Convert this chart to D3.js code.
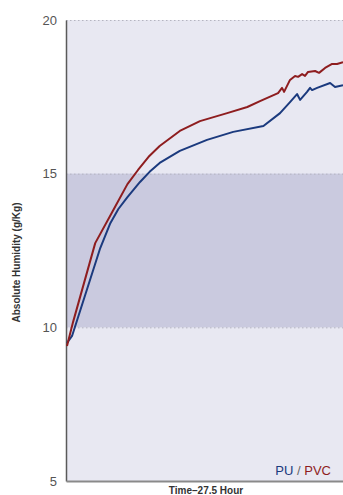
<!DOCTYPE html>
<html>
<head>
<meta charset="utf-8">
<script src="https://cdn.jsdelivr.net/npm/d3@7"></script>
<style>
  body { margin: 0; background: #fff; }
  svg text { font-family: "Liberation Sans", Arial, sans-serif; }
</style>
</head>
<body>
<div id="chart"></div>
<script>
// data: time (hours) and absolute humidity (g/Kg)
var puTime = [0.1, 0.6, 3.4, 4.4, 5.2, 6.1, 7.35, 8.3, 9.3, 11.3, 14.0, 16.6, 19.6, 21.25, 22.24, 22.94, 23.24, 23.93, 24.23, 24.43, 24.93, 26.22, 26.71, 27.5];
var puHum  = [9.49, 9.72, 12.58, 13.39, 13.85, 14.24, 14.73, 15.06, 15.35, 15.74, 16.1, 16.36, 16.55, 16.97, 17.33, 17.59, 17.4, 17.66, 17.79, 17.72, 17.79, 17.95, 17.82, 17.88];

var pvcTime = [0.1, 0.7, 2.9, 4.7, 6.1, 7.15, 8.2, 9.3, 11.3, 13.3, 16.0, 18.0, 19.26, 21.05, 21.45, 21.65, 22.24, 22.74, 23.04, 23.44, 23.73, 24.03, 24.73, 25.12, 25.72, 26.42, 26.91, 27.5];
var pvcHum  = [9.39, 10.17, 12.74, 13.82, 14.66, 15.12, 15.55, 15.9, 16.39, 16.71, 16.97, 17.17, 17.36, 17.62, 17.79, 17.66, 18.05, 18.18, 18.15, 18.24, 18.18, 18.31, 18.34, 18.28, 18.44, 18.57, 18.57, 18.63];

var yTicks = [5, 10, 15, 20];
var band = [10, 15];
var seriesNames = ["PU", "PVC"];
var seriesColors = ["#1b3a7e", "#8e1d1f"];

var width = 343, height = 495;
var margin = {top: 20, right: 0, bottom: 14, left: 66};

var svg = d3.select("#chart").append("svg")
    .attr("width", width)
    .attr("height", height);

var x = d3.scaleLinear().domain([0, 27.5]).range([margin.left, width - margin.right]);
var y = d3.scaleLinear().domain([5, 20]).range([height - margin.bottom, margin.top]);

// plot background
svg.append("rect")
    .attr("x", x(0)).attr("y", y(20))
    .attr("width", x(27.5) - x(0)).attr("height", y(5) - y(20))
    .attr("fill", "#e8e8f2");

// darker band 10-15
svg.append("rect")
    .attr("x", x(0)).attr("y", y(band[1]))
    .attr("width", x(27.5) - x(0)).attr("height", y(band[0]) - y(band[1]))
    .attr("fill", "#cacadf");

// dotted gridlines
svg.selectAll(".grid").data(yTicks.filter(d => d > 5)).enter()
  .append("line")
    .attr("x1", x(0)).attr("x2", x(27.5))
    .attr("y1", d => y(d) + 0.5).attr("y2", d => y(d) + 0.5)
    .attr("stroke", "#b4b4c0")
    .attr("stroke-width", 1)
    .attr("stroke-dasharray", "1.5,2.5");

// y axis
var yAxis = svg.append("g")
    .attr("transform", `translate(${x(0)},0)`)
    .call(d3.axisLeft(y).tickValues(yTicks).tickSize(0).tickPadding(9));
yAxis.select(".domain").attr("stroke", "#5a5a5a").attr("stroke-width", 1.5);
yAxis.selectAll("text").attr("font-size", 13).attr("fill", "#555")
    .attr("font-family", "Liberation Sans, Arial, sans-serif");

// x axis (line only)
var xAxis = svg.append("g")
    .attr("transform", `translate(0,${y(5)})`)
    .call(d3.axisBottom(x).tickValues([]).tickSizeOuter(0));
xAxis.select(".domain").attr("stroke", "#8a8a8a").attr("stroke-width", 2);

// lines
var line = d3.line().x(d => x(d[0])).y(d => y(d[1]));
var puData = puTime.map((t, i) => [t, puHum[i]]);
var pvcData = pvcTime.map((t, i) => [t, pvcHum[i]]);

svg.append("path").datum(puData)
    .attr("d", line).attr("fill", "none")
    .attr("stroke", seriesColors[0]).attr("stroke-width", 2)
    .attr("stroke-linejoin", "round");

svg.append("path").datum(pvcData)
    .attr("d", line).attr("fill", "none")
    .attr("stroke", seriesColors[1]).attr("stroke-width", 2)
    .attr("stroke-linejoin", "round");

// legend text
var leg = svg.append("text")
    .attr("x", 331).attr("y", 475)
    .attr("text-anchor", "end")
    .attr("font-size", 13);
leg.append("tspan").attr("fill", seriesColors[0]).text(seriesNames[0]);
leg.append("tspan").attr("fill", "#666").text(" / ");
leg.append("tspan").attr("fill", seriesColors[1]).text(seriesNames[1]);

// axis titles
svg.append("text")
    .attr("transform", `translate(20,${(y(5) + y(20)) / 2 + 12}) rotate(-90)`)
    .attr("text-anchor", "middle")
    .attr("font-size", 10).attr("font-weight", "bold").attr("fill", "#333")
    .text("Absolute Humidity (g/Kg)");

svg.append("text")
    .attr("x", 206).attr("y", 494)
    .attr("text-anchor", "middle")
    .attr("font-size", 10).attr("font-weight", "bold").attr("fill", "#333")
    .text("Time\u201327.5 Hour");
</script>
</body>
</html>
